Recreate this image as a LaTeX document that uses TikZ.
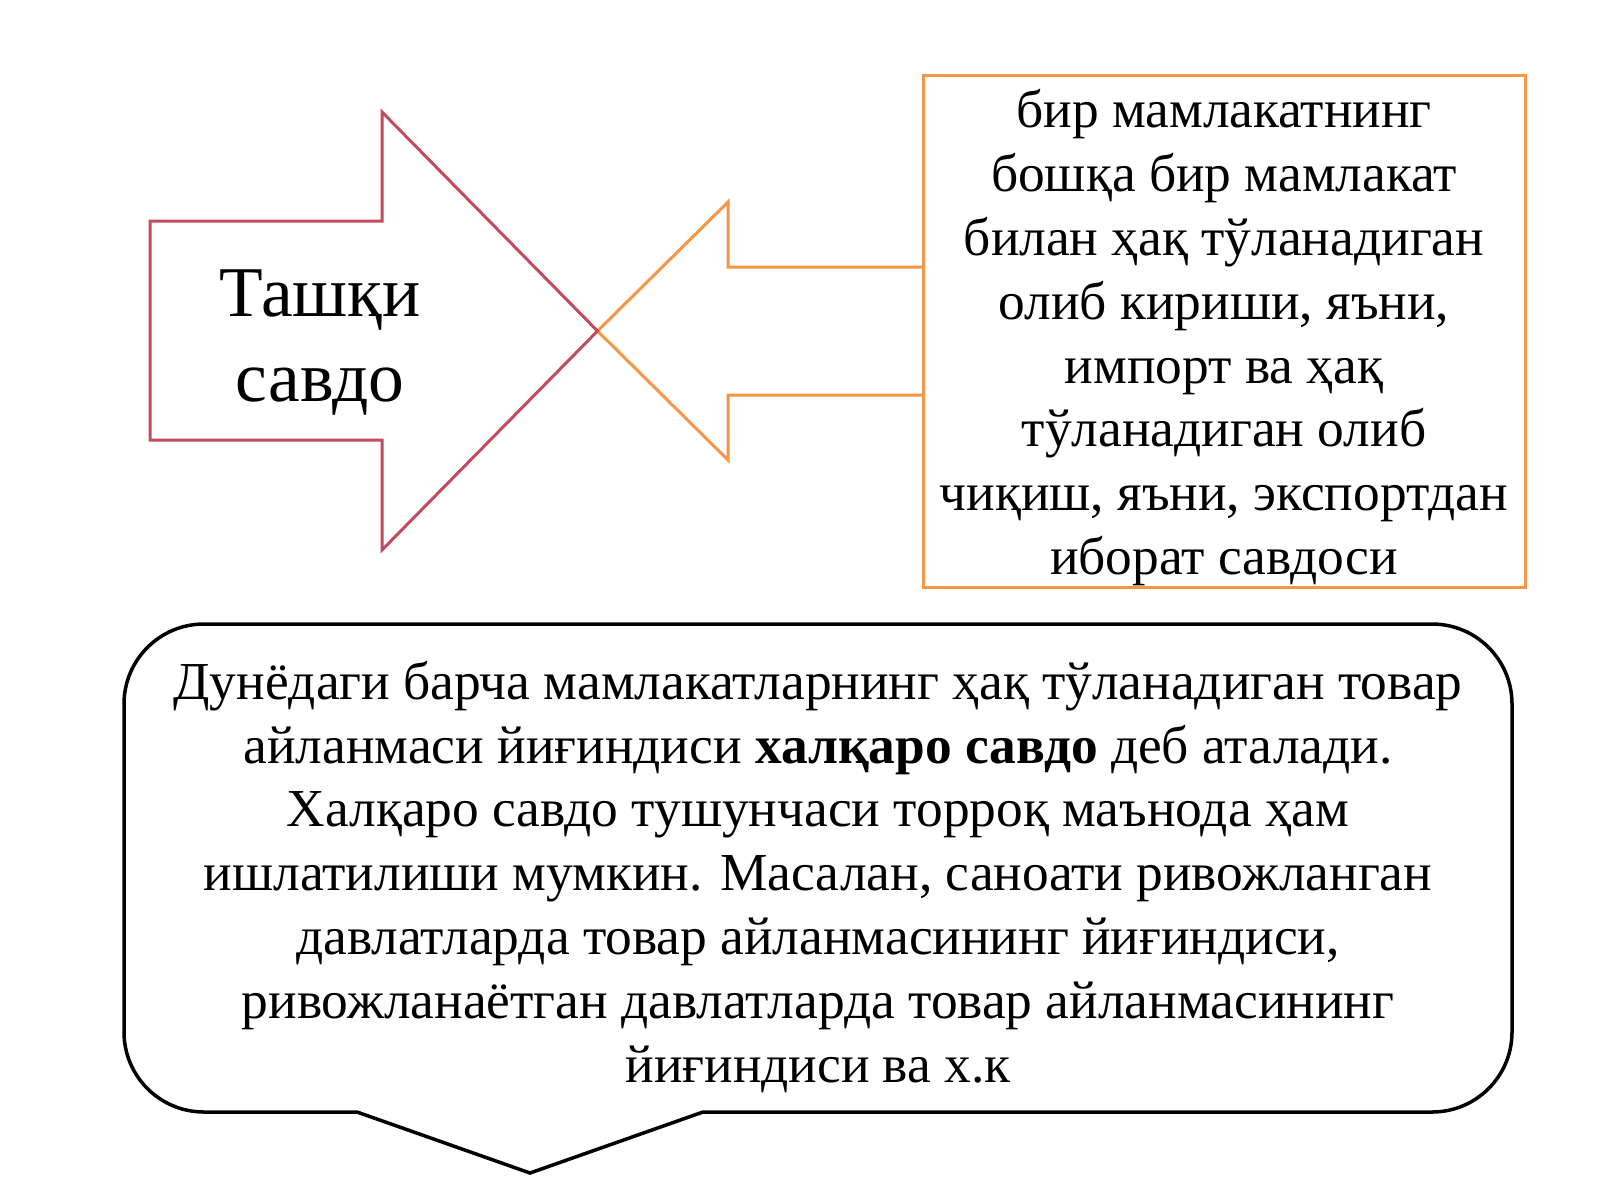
\documentclass[tikz,border=0pt]{standalone}
\usepackage{fontspec}
\setmainfont{Liberation Serif}
\definecolor{arrred}{RGB}{195,75,95}
\definecolor{arrorange}{RGB}{247,150,70}
\begin{document}
\begin{tikzpicture}[x=0.5pt,y=-0.5pt,
  redarrow/.style={draw=arrred,line width=1.5pt,line join=miter},
  orangearrow/.style={draw=arrorange,line width=1.5pt,line join=miter},
  defbox/.style={draw=arrorange,line width=1.5pt},
  bubble/.style={draw=black,line width=1.75pt,line join=miter,line cap=round},
  bodytext/.style={font=\fontsize{26.7}{31.9}\selectfont,align=center,anchor=base,inner sep=0pt},
  titletext/.style={font=\fontsize{35.7}{42.5}\selectfont,align=center,anchor=base,inner sep=0pt}]
\useasboundingbox[fill=white] (0,0) rectangle (1600,1200);
% left-pointing orange arrow
\draw[orangearrow] (924,267) -- (728,267) -- (728,202) -- (597.5,331) -- (728,460) -- (728,395) -- (924,395);
% right-pointing red arrow
\draw[redarrow] (150,221) -- (382,221) -- (382,112) -- (597.5,331) -- (382,550) -- (382,440) -- (150,440) -- cycle;
% definition box
\draw[defbox] (923,75) rectangle (1525,587);
% speech bubble
\draw[bubble] (357,1112) -- (530,1173) -- (703,1112) [rounded corners=40pt] -- (1512,1112) -- (1512,624) -- (124,624) -- (124,1112) -- (357,1112);
% texts (anchored at the baseline of the last line)
\node[titletext] (title) at (320,401) {Ташқи\\савдо};
\node[bodytext] (deftext) at (1224,574.5) {бир мамлакатнинг\\бошқа бир мамлакат\\билан ҳақ тўланадиган\\олиб кириши, яъни,\\импорт ва ҳақ\\тўланадиган олиб\\чиқиш, яъни, экспортдан\\иборат савдоси};
\node[bodytext] (bubbletext) at (818,1082) {Дунёдаги барча мамлакатларнинг ҳақ тўланадиган товар\\айланмаси йиғиндиси \textbf{халқаро савдо} деб аталади.\\Халқаро савдо тушунчаси торроқ маънода ҳам\\ишлатилиши мумкин. Масалан, саноати ривожланган\\давлатларда товар айланмасининг йиғиндиси,\\ривожланаётган давлатларда товар айланмасининг\\йиғиндиси ва х.к};
\end{tikzpicture}
\end{document}
